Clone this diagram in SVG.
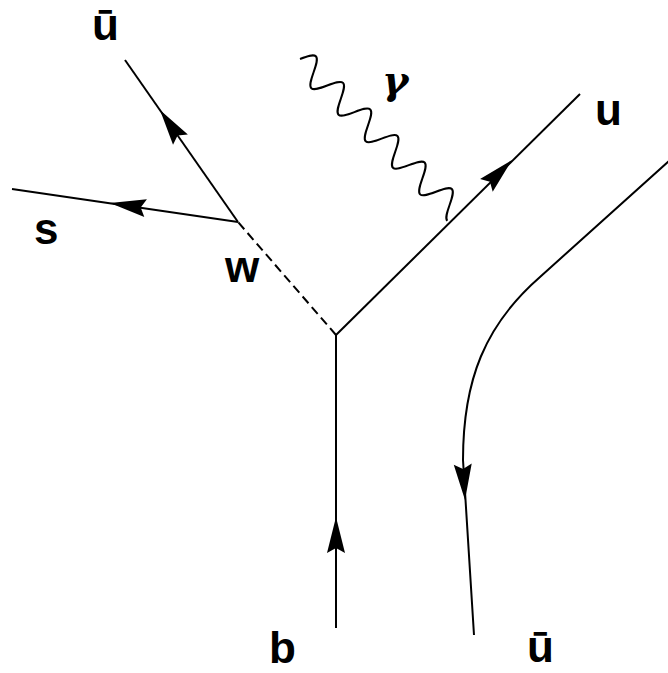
<svg xmlns="http://www.w3.org/2000/svg" xmlns:xlink="http://www.w3.org/1999/xlink" width="668" height="673" viewBox="0 0 668 673">
<style>
.ln{fill:none;stroke:#000;stroke-width:2;stroke-linecap:butt}
.dash{stroke-dasharray:9 5}
.lbl{font-family:"Liberation Sans",Arial,sans-serif;font-weight:bold;font-size:44px;fill:#000}
.greek{font-family:"DejaVu Serif","Liberation Serif",serif;font-weight:bold;font-style:italic;font-size:40px;fill:#000}
.ah{fill:#000;stroke:none}
</style>
<defs>
<path id="ah" d="M0,0 L-36,-9 L-31,0 L-36,9 Z"/>
</defs>
<rect width="668" height="673" fill="#fff"/>
<g id="connectors">
<path class="ln" d="M336,628 L336,335"/>
<path class="ln" d="M336,335 L580,94"/>
<path class="ln dash" d="M336,335 L238,222"/>
<path class="ln" d="M238,222 L125,60"/>
<path class="ln" d="M238,222 L12,189"/>
<path class="ln" d="M670,160 L540,277 C485,325 463,380 463,460 L474,635"/>
<path id="photon" class="ln" transform="translate(300,59) rotate(44.3)" d="M0,0 c3.176,-6.83 6.08,-13 9.5,-13 s6.324,6.17 9.5,13 s6.08,13 9.5,13 s6.324,-6.17 9.5,-13 s6.08,-13 9.5,-13 s6.324,6.17 9.5,13 s6.08,13 9.5,13 s6.324,-6.17 9.5,-13 s6.08,-13 9.5,-13 s6.324,6.17 9.5,13 s6.08,13 9.5,13 s6.324,-6.17 9.5,-13 s6.08,-13 9.5,-13 s6.324,6.17 9.5,13 s6.08,13 9.5,13 s6.324,-6.17 9.5,-13 s6.08,-13 9.5,-13 s6.324,6.17 9.5,13 s6.08,13 9.5,13 s6.324,-6.17 9.5,-13 s6.08,-13 9.5,-13 s6.324,6.17 9.5,13 s6.08,13 9.5,13"/>
<use class="ah" xlink:href="#ah" transform="translate(336,517) rotate(-90)"/>
<use class="ah" xlink:href="#ah" transform="translate(512,160) rotate(-44.65)"/>
<use class="ah" xlink:href="#ah" transform="translate(160,110) rotate(-124.6)"/>
<use class="ah" xlink:href="#ah" transform="translate(110,203) rotate(188.3)"/>
<use class="ah" xlink:href="#ah" transform="translate(465,500) rotate(86.4)"/>
</g>
<g id="n-ubar-top"><text class="lbl" x="92" y="40" font-size="40">ū</text></g>
<g id="n-gamma"><text class="greek" x="382" y="94">γ</text></g>
<g id="n-u"><text class="lbl" x="595" y="125">u</text></g>
<g id="n-s"><text class="lbl" x="34" y="244">s</text></g>
<g id="n-w"><text class="lbl" x="225" y="282">w</text></g>
<g id="n-b"><text class="lbl" x="269" y="663">b</text></g>
<g id="n-ubar-bottom"><text class="lbl" x="527" y="662">ū</text></g>
</svg>
